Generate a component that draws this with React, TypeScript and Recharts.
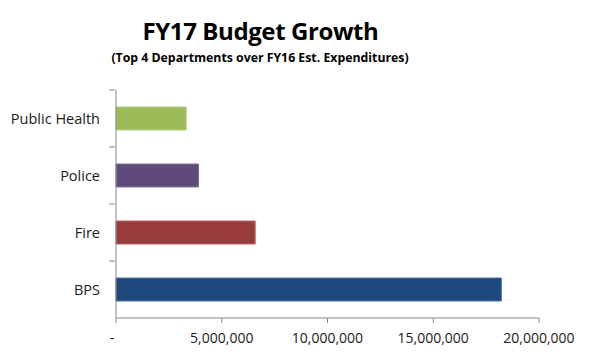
import React from "react";
import { BarChart, Bar, XAxis, YAxis, Cell } from "recharts";

const departments = ["Public Health", "Police", "Fire", "BPS"];
const growth = [3320000, 3900000, 6580000, 18220000];
const barColors = ["#9BBB59", "#604A7B", "#993A3C", "#1F497D"];
const barEdges = ["#B4CD84", "#8470A0", "#B96466", "#4A72A6"];
const xTicks = [0, 5000000, 10000000, 15000000, 20000000];

const data = departments.map((name, i) => ({ name, value: growth[i] }));

const font = "'Open Sans', sans-serif";

const YTick = (props: any) => {
  const { x, y, payload } = props;
  const half = 57 / 2;
  return (
    <g>
      <line x1={x + 1} x2={x + 7} y1={y - half} y2={y - half} stroke="#888" />
      <text
        x={x - 8}
        y={y}
        dy={5}
        textAnchor="end"
        fill="#1a1a1a"
        fontSize={14.5}
        fontFamily={font}
      >
        {payload.value}
      </text>
    </g>
  );
};

const XTick = (props: any) => {
  const { x, y, payload } = props;
  const isZero = payload.value === 0;
  return (
    <text
      x={isZero ? x - 4 : x}
      y={y}
      dy={18}
      textAnchor="middle"
      fill="#1a1a1a"
      fontSize={14}
      fontFamily={font}
    >
      {isZero ? "-" : payload.value.toLocaleString("en-US")}
    </text>
  );
};

export default function App() {
  return (
    <div
      style={{
        position: "absolute",
        left: 0,
        top: 0,
        width: 600,
        height: 360,
        background: "#fff",
      }}
    >
      <div
        style={{
          position: "absolute",
          left: 0,
          width: 521,
          top: 14,
          textAlign: "center",
          fontFamily: font,
          fontWeight: 700,
          fontSize: 24,
          letterSpacing: -0.4,
          color: "#000",
        }}
      >
        FY17 Budget Growth
      </div>
      <div
        style={{
          position: "absolute",
          left: 0,
          width: 520,
          top: 49,
          textAlign: "center",
          fontFamily: font,
          fontWeight: 700,
          fontSize: 12.3,
          color: "#000",
        }}
      >
        (Top 4 Departments over FY16 Est. Expenditures)
      </div>
      <BarChart
        width={600}
        height={360}
        data={data}
        layout="vertical"
        margin={{ top: 90, right: 61, bottom: 12, left: 0 }}
      >
        <XAxis
          type="number"
          domain={[0, 20000000]}
          ticks={xTicks}
          axisLine={{ stroke: "#888" }}
          tickLine={{ stroke: "#888" }}
          tickSize={5}
          tick={<XTick />}
          height={30}
          interval={0}
        />
        <YAxis
          type="category"
          dataKey="name"
          width={116}
          axisLine={{ stroke: "#888" }}
          tickLine={false}
          tick={<YTick />}
          interval={0}
        />
        <Bar dataKey="value" barSize={23} isAnimationActive={false}>
          {data.map((d, i) => (
            <Cell key={d.name} fill={barColors[i]} stroke={barEdges[i]} />
          ))}
        </Bar>
      </BarChart>
    </div>
  );
}
